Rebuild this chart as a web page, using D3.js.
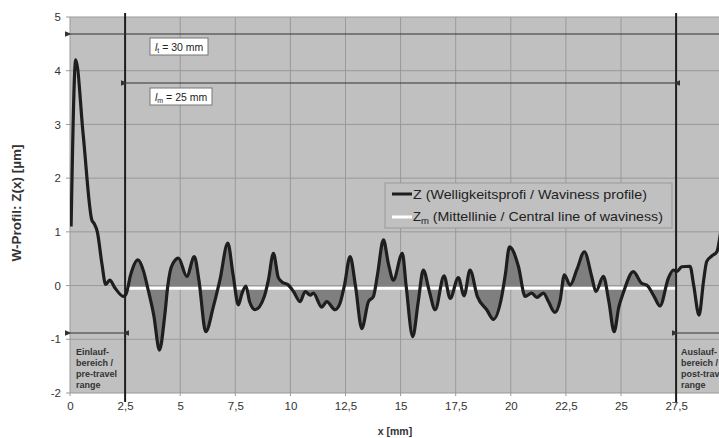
<!DOCTYPE html>
<html lang="de">
<head>
<meta charset="utf-8">
<title>W-Profil</title>
<style>
  body{ margin:0; padding:0; background:#fff; overflow:hidden; }
  svg{ display:block; font-family:"Liberation Sans", Arial, sans-serif; }
  .tick text{ font-size:11.5px; fill:#333; }
  .note{ font-size:9px; font-weight:bold; fill:#333; }
</style>
</head>
<body>
<svg id="chart" width="719" height="438"></svg>
<script src="https://cdnjs.cloudflare.com/ajax/libs/d3/7.8.5/d3.min.js"></script>
<script>
// profile Z(x)
var profX = [0.05,0.26,0.6,0.99,1.1,1.24,1.45,1.62,1.8,2.05,2.42,2.55,2.75,3.08,3.35,3.5,3.8,4.06,4.3,4.44,4.6,4.92,5.3,5.64,5.85,6.16,6.5,6.8,7.16,7.4,7.64,7.8,7.98,8.15,8.4,8.82,9.0,9.23,9.45,9.61,9.91,10.14,10.44,10.67,10.9,11.04,11.42,11.65,12.03,12.25,12.45,12.71,12.95,13.24,13.54,13.77,13.95,14.22,14.45,14.67,15.08,15.25,15.55,15.8,16.03,16.3,16.57,16.97,17.25,17.62,17.88,18.15,18.48,18.91,19.21,19.59,19.75,19.94,20.35,20.65,20.95,21.18,21.48,21.71,22.0,22.24,22.43,22.69,23.0,23.34,23.67,23.86,24.2,24.45,24.69,24.9,25.1,25.56,25.94,26.17,26.5,26.77,27.15,27.38,27.53,27.76,28.13,28.3,28.54,28.75,28.89,29.12,29.35,29.6,30.0];
var profZ = [1.1,4.2,2.8,1.22,1.15,1.0,0.4,0.02,0.1,-0.05,-0.2,-0.15,0.2,0.48,0.25,0.0,-0.55,-1.2,-0.55,0.0,0.35,0.51,0.17,0.54,0.1,-0.86,-0.4,0.1,0.79,0.2,-0.36,-0.15,-0.01,-0.3,-0.45,-0.2,0.1,0.6,0.15,0.07,0.01,-0.11,-0.3,-0.11,-0.18,-0.14,-0.4,-0.3,-0.45,-0.33,0.0,0.54,0.0,-0.8,-0.3,-0.2,0.2,0.85,0.4,0.1,0.6,0.0,-0.95,-0.3,0.29,-0.1,-0.45,0.18,-0.24,0.15,-0.19,0.29,-0.2,-0.45,-0.63,-0.2,0.2,0.72,0.35,-0.2,-0.14,-0.22,-0.14,-0.3,-0.5,-0.27,0.2,0.01,0.3,0.63,0.17,-0.11,0.17,-0.3,-0.86,-0.4,-0.14,0.26,0.04,0.01,-0.2,-0.38,0.14,0.29,0.26,0.35,0.36,0.0,-0.55,0.1,0.45,0.55,0.63,1.2,2.0];

var zmLevel = -0.05;          // Mittellinie
var evalRange = [2.5, 27.5];  // l_m
var gridX = [0,2.5,5,7.5,10,12.5,15,17.5,20,22.5,25,27.5,30];
var xTickLabels = [0,2.5,5,7.5,10,12.5,15,17.5,20,22.5,25,27.5]; // 30 falls outside the picture
var yTicks = [-2,-1,0,1,2,3,4,5];

var svg = d3.select('#chart'),
    W = 719, H = 438,
    padL = 70, padT = 17, padB = 393;   // note: "top" is taken by window.top

var x = d3.scaleLinear().domain([0, 30]).range([padL, padL + 22.04 * 30]);
var y = d3.scaleLinear().domain([-2, 5]).range([padB, padT]);

var pts = profX.map(function (d, i) { return [d, profZ[i]]; });
var fmt = function (d) { return String(d).replace('.', ','); };

var defs = svg.append('defs');
defs.append('clipPath').attr('id', 'plotClip').append('rect')
  .attr('x', padL).attr('y', padT).attr('width', W - padL).attr('height', padB - padT);
defs.append('clipPath').attr('id', 'evalClip').append('rect')
  .attr('x', x(evalRange[0])).attr('y', padT)
  .attr('width', x(evalRange[1]) - x(evalRange[0])).attr('height', padB - padT);
defs.append('marker').attr('id', 'ah').attr('viewBox', '0 0 10 10')
  .attr('refX', 1).attr('refY', 5).attr('markerWidth', 7).attr('markerHeight', 7)
  .attr('orient', 'auto-start-reverse')
  .append('path').attr('d', 'M10,1 L0,5 L10,9 Z').attr('fill', '#333');

// plot background
svg.append('rect').attr('x', padL).attr('y', padT)
  .attr('width', W - padL).attr('height', padB - padT).attr('fill', '#c0c0c0');

// grid
svg.append('g').selectAll('line').data(yTicks).enter().append('line')
  .attr('x1', padL - 4).attr('x2', W)
  .attr('y1', function (d) { return y(d); }).attr('y2', function (d) { return y(d); })
  .attr('stroke', '#999').attr('stroke-width', 1);
svg.append('g').selectAll('line').data(gridX).enter().append('line')
  .attr('x1', function (d) { return x(d); }).attr('x2', function (d) { return x(d); })
  .attr('y1', padT).attr('y2', padB + 3)
  .attr('stroke', '#999').attr('stroke-width', 1);

// axes (labels only)
var yAxis = svg.append('g').attr('transform', 'translate(' + padL + ',0)')
  .call(d3.axisLeft(y).tickValues(yTicks).tickSize(0).tickPadding(9).tickFormat(fmt));
var xAxis = svg.append('g').attr('transform', 'translate(0,' + padB + ')')
  .call(d3.axisBottom(x).tickValues(xTickLabels).tickSize(0).tickPadding(9).tickFormat(fmt));
yAxis.select('.domain').remove();
xAxis.select('.domain').remove();

svg.append('text').attr('transform', 'translate(21,203) rotate(-90)')
  .attr('text-anchor', 'middle').attr('font-size', 13.5).attr('font-weight', 'bold')
  .attr('fill', '#333').text('W-Profil: Z(x) [µm]');
svg.append('text').attr('x', 395).attr('y', 435).attr('text-anchor', 'middle')
  .attr('font-size', 10.5).attr('font-weight', 'bold').attr('fill', '#333').text('x [mm]');

// filled deviations between profile and Zm
var plot = svg.append('g').attr('clip-path', 'url(#plotClip)');
plot.append('g').attr('clip-path', 'url(#evalClip)').append('path')
  .datum(pts)
  .attr('d', d3.area().curve(d3.curveMonotoneX)
    .x(function (d) { return x(d[0]); })
    .y0(y(zmLevel))
    .y1(function (d) { return y(d[1]); }))
  .attr('fill', '#7f7f7f');

// Zm line
plot.append('line').attr('x1', x(evalRange[0])).attr('x2', x(evalRange[1]))
  .attr('y1', y(zmLevel)).attr('y2', y(zmLevel))
  .attr('stroke', '#fff').attr('stroke-width', 3);

// profile
plot.append('path').datum(pts)
  .attr('d', d3.line().curve(d3.curveMonotoneX)
    .x(function (d) { return x(d[0]); })
    .y(function (d) { return y(d[1]); }))
  .attr('fill', 'none').attr('stroke', '#1e1e1e').attr('stroke-width', 3.2)
  .attr('stroke-linejoin', 'round');

// l_m boundaries
svg.selectAll('.bound').data(evalRange).enter().append('line').attr('class', 'bound')
  .attr('x1', function (d) { return x(d); }).attr('x2', function (d) { return x(d); })
  .attr('y1', 13).attr('y2', 402)
  .attr('stroke', '#1e1e1e').attr('stroke-width', 2);

// dimension arrows
function arrow(x1, x2, yy, startHead, endHead) {
  var l = svg.append('line').attr('x1', x1).attr('x2', x2).attr('y1', yy).attr('y2', yy)
    .attr('stroke', '#333').attr('stroke-width', 1);
  if (startHead) l.attr('marker-start', 'url(#ah)');
  if (endHead) l.attr('marker-end', 'url(#ah)');
}
arrow(x(0) + 1, W + 5, 34, true, false);
arrow(x(2.5) + 2, x(27.5) - 2, 83, true, true);
arrow(x(0) + 1, x(2.5) - 2, 333, true, true);
arrow(x(27.5) + 2, W + 5, 333, true, false);

// l_t / l_m labels
function dimLabel(bx, by, bw, sub, txt) {
  svg.append('rect').attr('x', bx).attr('y', by).attr('width', bw).attr('height', 17)
    .attr('fill', '#fff').attr('stroke', '#777').attr('stroke-width', 1);
  var t = svg.append('text').attr('x', bx + 5).attr('y', by + 12.5)
    .attr('font-size', 10.5).attr('fill', '#222');
  t.append('tspan').attr('font-style', 'italic').text('l');
  t.append('tspan').attr('font-size', 7).attr('dy', 2.5).text(sub);
  t.append('tspan').attr('dy', -2.5).text(txt);
}
dimLabel(150, 38, 58, 't', ' = 30 mm');
dimLabel(150, 88, 62, 'm', ' = 25 mm');

// range notes
function note(nx, lines) {
  svg.append('text').attr('class', 'note').selectAll('tspan').data(lines).enter()
    .append('tspan').attr('x', nx).attr('y', function (d, i) { return 355 + i * 11; })
    .text(function (d) { return d; });
}
note(76, ['Einlauf-', 'bereich /', 'pre-travel', 'range']);
note(681, ['Auslauf-', 'bereich /', 'post-travel', 'range']);

// legend
var lg = svg.append('g');
lg.append('rect').attr('x', 385).attr('y', 183).attr('width', 287).attr('height', 45)
  .attr('fill', '#c0c0c0').attr('stroke', '#999').attr('stroke-width', 1);
lg.append('line').attr('x1', 392).attr('x2', 412).attr('y1', 194).attr('y2', 194)
  .attr('stroke', '#1e1e1e').attr('stroke-width', 3);
lg.append('text').attr('x', 413).attr('y', 198.5).attr('font-size', 13).attr('fill', '#222')
  .attr('textLength', 234).attr('lengthAdjust', 'spacingAndGlyphs')
  .text('Z (Welligkeitsprofi / Waviness profile)');
lg.append('line').attr('x1', 392).attr('x2', 412).attr('y1', 217).attr('y2', 217)
  .attr('stroke', '#fff').attr('stroke-width', 3);
var t2 = lg.append('text').attr('x', 413).attr('y', 221).attr('font-size', 13).attr('fill', '#222');
t2.append('tspan').text('Z');
t2.append('tspan').attr('font-size', 9.5).attr('dy', 3).text('m');
t2.append('tspan').attr('dy', -3).attr('textLength', 234).attr('lengthAdjust', 'spacingAndGlyphs')
  .text(' (Mittellinie / Central line of waviness)');
</script>
</body>
</html>
